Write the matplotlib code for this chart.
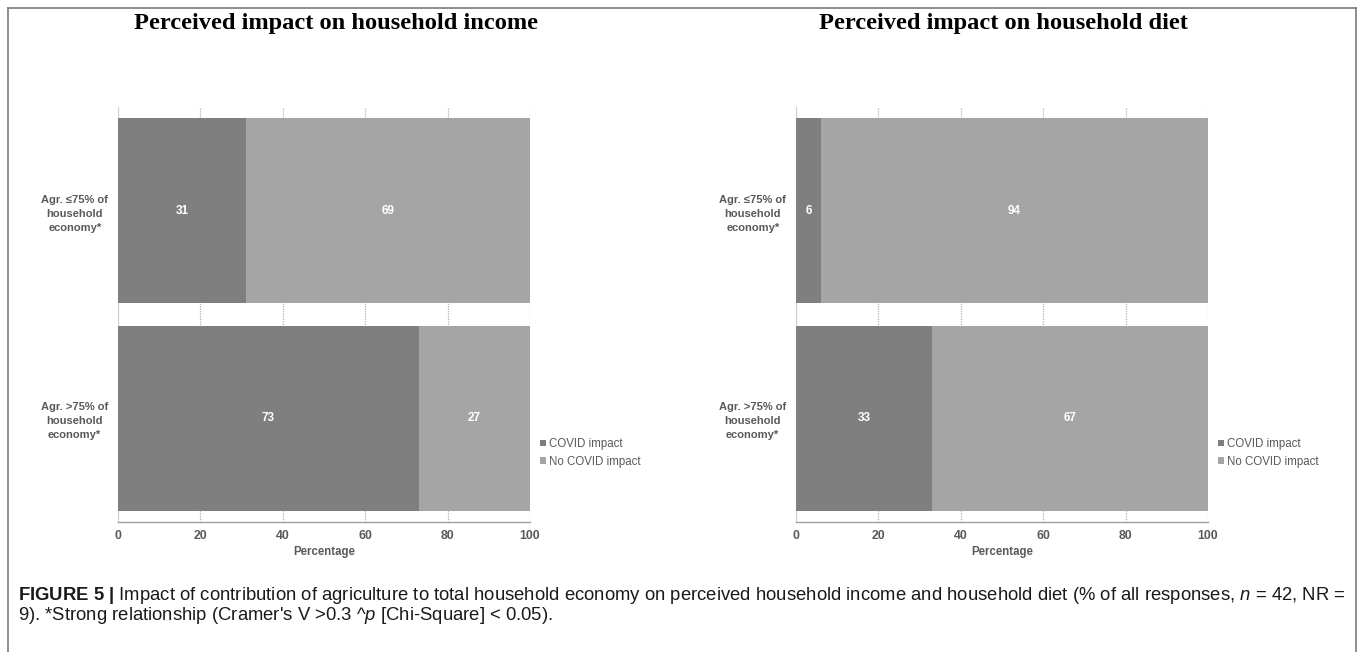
import matplotlib
matplotlib.use("Agg")
import matplotlib.pyplot as plt
import matplotlib.lines as mlines
from matplotlib import font_manager

# data (% of responses)
categories = ["Agr. >75% of\nhousehold\neconomy*", "Agr. \u226475% of\nhousehold\neconomy*"]
income_covid = [73, 31]
income_nocovid = [27, 69]
diet_covid = [33, 6]
diet_nocovid = [67, 94]
series_names = ["COVID impact", "No COVID impact"]
xticks = [0, 20, 40, 60, 80, 100]
titles = ["Perceived impact on household income", "Perceived impact on household diet"]

dark = "#7f7f7f"
light = "#a5a5a5"
txtgray = "#595959"

names = set(f.name for f in font_manager.fontManager.ttflist)
capfont = "Liberation Sans Narrow" if "Liberation Sans Narrow" in names else "Liberation Sans"
plt.rcParams["font.family"] = ["Liberation Sans", "DejaVu Sans"]
plt.rcParams["mathtext.fontset"] = "custom"
plt.rcParams["mathtext.rm"] = capfont
plt.rcParams["mathtext.it"] = capfont + ":italic"
plt.rcParams["mathtext.bf"] = capfont + ":bold"

W, H = 1360, 652
fig = plt.figure(figsize=(13.6, 6.52), dpi=100)

# outer frame of the figure box
for xs, ys in [([8, 8], [652, 8]), ([8, 1356], [8, 8]), ([1356, 1356], [8, 652])]:
    fig.add_artist(mlines.Line2D([x / W for x in xs], [1 - y / H for y in ys],
                                 color="#7a7a7a", linewidth=1.2))

panels = [
    (118, income_covid, income_nocovid, 336, 540),
    (796, diet_covid, diet_nocovid, 1003, 1218),
]
for (left, cov, nocov, tx, lx), title in zip(panels, titles):
    ax = fig.add_axes([left / W, 1 - 522 / H, 412 / W, 415 / H])
    ypos = range(len(categories))
    b1 = ax.barh(ypos, cov, height=0.89, color=dark, zorder=3, label=series_names[0])
    b2 = ax.barh(ypos, nocov, left=cov, height=0.89, color=light, zorder=3, label=series_names[1])
    for i in ypos:
        ax.text(cov[i] / 2, i, str(cov[i]), ha="center", va="center", color="white",
                fontsize=8.5, fontweight="bold", zorder=4)
        ax.text(cov[i] + nocov[i] / 2, i, str(nocov[i]), ha="center", va="center",
                color="white", fontsize=8.5, fontweight="bold", zorder=4)
    ax.set_xlim(0, 100)
    ax.set_ylim(-0.5, 1.5)
    ax.set_xticks(xticks)
    ax.set_xticklabels([str(t) for t in xticks], fontsize=8.8, fontweight="bold", color=txtgray)
    ax.set_yticks(list(ypos))
    ax.set_yticklabels(categories, fontsize=8, fontweight="bold", color=txtgray,
                       multialignment="center", linespacing=1.5)
    ax.tick_params(axis="both", length=0)
    ax.tick_params(axis="x", pad=6)
    ax.tick_params(axis="y", pad=7)
    ax.grid(axis="x", color="#b0b0b0", linestyle=(0, (1, 1)), linewidth=0.9, zorder=0)
    for s in ["top", "right"]:
        ax.spines[s].set_visible(False)
    ax.spines["left"].set_color("#d0d0d0")
    ax.spines["left"].set_linewidth(0.8)
    ax.spines["bottom"].set_color("#a0a0a0")
    ax.spines["bottom"].set_linewidth(1.0)
    ax.set_xlabel("Percentage", fontsize=8.3, fontweight="bold", color=txtgray, labelpad=3)
    leg = fig.legend(handles=[b1, b2], loc="upper left",
                     bbox_to_anchor=(lx / W, 1 - 438 / H), frameon=False,
                     fontsize=8.3, handlelength=0.5, handleheight=0.5,
                     handletextpad=0.3, labelspacing=0.5, borderpad=0, borderaxespad=0)
    for t in leg.get_texts():
        t.set_color(txtgray)
    fig.text(tx / W, 1 - 23 / H, title, ha="center", va="center", fontsize=17.6,
             fontweight="bold", family=["Liberation Serif", "DejaVu Serif"])

line1 = (r"$\mathbf{FIGURE\ 5\ |}$ Impact of contribution of agriculture to total household "
         r"economy on perceived household income and household diet (% of all responses, "
         r"$n$ = 42, NR =")
line2 = r"9). *Strong relationship (Cramer's V >0.3 ^$p$ [Chi-Square] < 0.05)."
t1 = fig.text(18 / W, 1 - 595 / H, line1, ha="left", va="center", fontsize=12,
              family=capfont, color="#1a1a1a")
t2 = fig.text(18 / W, 1 - 616 / H, line2, ha="left", va="center", fontsize=12,
              family=capfont, color="#1a1a1a")
# scale caption so line 1 spans the box width like the original
r = fig.canvas.get_renderer()
w = t1.get_window_extent(r).width
fs = 12 * 1322 / w
t1.set_fontsize(fs)
t2.set_fontsize(fs)

fig.savefig("out.png", dpi=100, facecolor="white")
